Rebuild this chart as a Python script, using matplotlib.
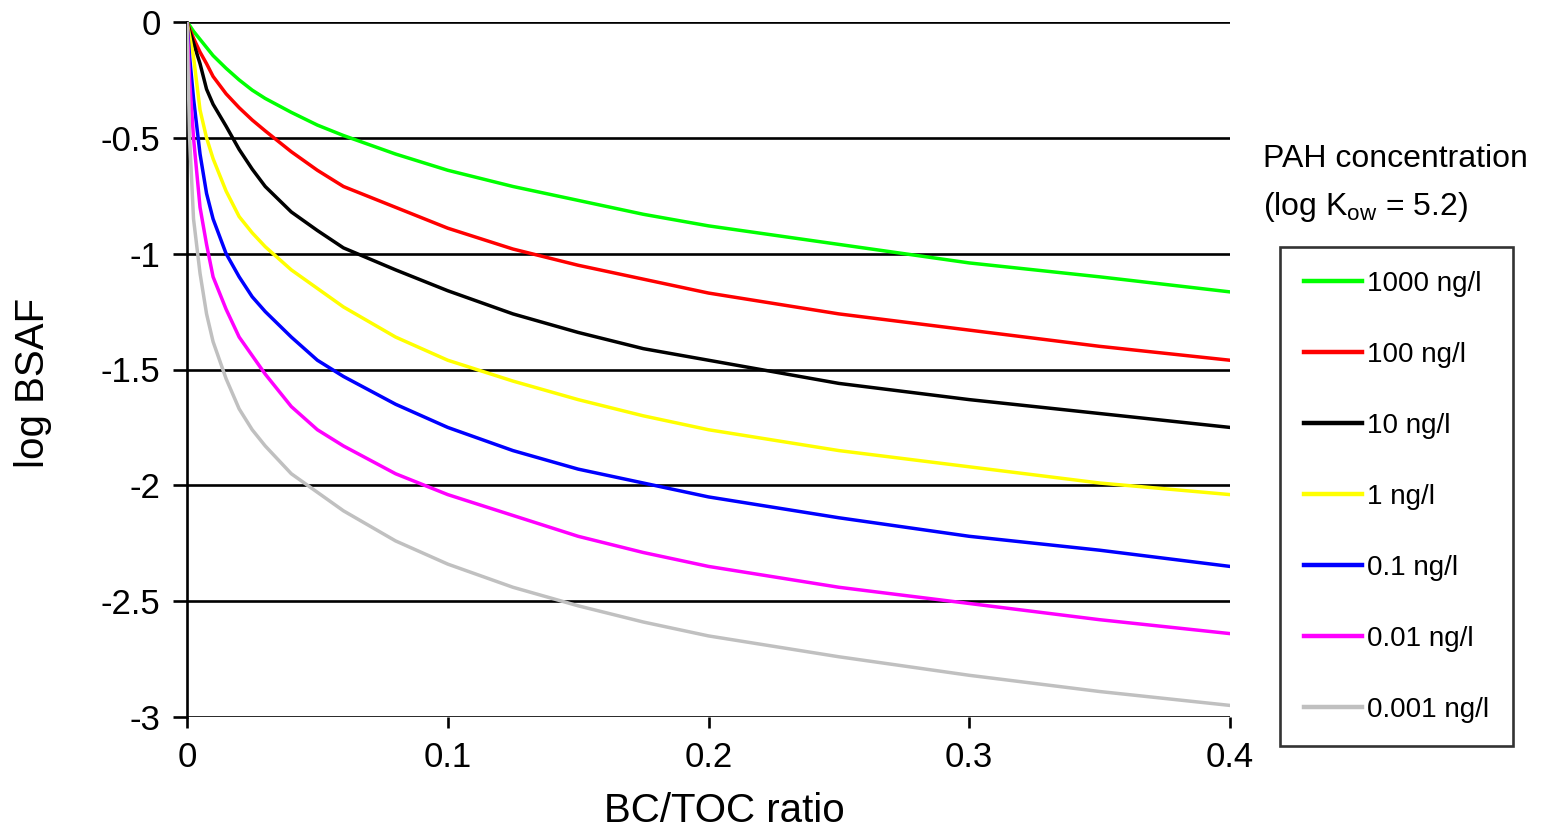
import numpy as np
import matplotlib
matplotlib.use("Agg")
import matplotlib.pyplot as plt

plt.rcParams['font.family'] = ['Liberation Sans', 'DejaVu Sans']
plt.rcParams['mathtext.fontset'] = 'custom'
plt.rcParams['mathtext.rm'] = 'Liberation Sans'
plt.rcParams['axes.unicode_minus'] = False

# BC/TOC ratio
bc_toc = [0, 0.001, 0.0025, 0.005, 0.0075, 0.01, 0.015, 0.02, 0.025, 0.03, 0.04, 0.05,
          0.06, 0.08, 0.1, 0.125, 0.15, 0.175, 0.2, 0.25, 0.3, 0.35, 0.4]

# log BSAF for each PAH concentration
bsaf_1000 = [0, -0.015, -0.04, -0.075, -0.11, -0.145, -0.2, -0.25, -0.294, -0.33, -0.39, -0.445,
             -0.49, -0.57, -0.64, -0.71, -0.77, -0.83, -0.88, -0.96, -1.04, -1.1, -1.165]
bsaf_100 = [0, -0.03, -0.07, -0.13, -0.18, -0.235, -0.31, -0.37, -0.423, -0.47, -0.56, -0.64,
            -0.71, -0.8, -0.89, -0.98, -1.05, -1.11, -1.17, -1.26, -1.33, -1.4, -1.46]
bsaf_10 = [0, -0.04, -0.09, -0.18, -0.29, -0.355, -0.45, -0.55, -0.635, -0.71, -0.82, -0.9,
           -0.975, -1.07, -1.16, -1.26, -1.34, -1.41, -1.46, -1.56, -1.63, -1.69, -1.75]
bsaf_1 = [0, -0.06, -0.15, -0.38, -0.5, -0.59, -0.73, -0.84, -0.91, -0.97, -1.07, -1.15,
          -1.23, -1.36, -1.46, -1.55, -1.63, -1.7, -1.76, -1.85, -1.92, -1.99, -2.04]
bsaf_01 = [0, -0.15, -0.33, -0.57, -0.74, -0.85, -1.0, -1.1, -1.186, -1.25, -1.36, -1.46,
           -1.53, -1.65, -1.75, -1.85, -1.93, -1.99, -2.05, -2.14, -2.22, -2.28, -2.35]
bsaf_001 = [0, -0.25, -0.5, -0.8, -0.96, -1.1, -1.24, -1.36, -1.44, -1.52, -1.66, -1.76,
            -1.83, -1.95, -2.04, -2.13, -2.22, -2.29, -2.35, -2.44, -2.51, -2.58, -2.64]
bsaf_0001 = [0, -0.5, -0.85, -1.085, -1.26, -1.38, -1.54, -1.67, -1.76, -1.83, -1.95, -2.03,
             -2.11, -2.24, -2.34, -2.44, -2.52, -2.59, -2.65, -2.74, -2.82, -2.89, -2.95]

labels = ['1000 ng/l', '100 ng/l', '10 ng/l', '1 ng/l', '0.1 ng/l', '0.01 ng/l', '0.001 ng/l']
colors = ['#00ff00', '#ff0000', '#000000', '#ffff00', '#0000ff', '#ff00ff', '#c0c0c0']

xticks = [0, 0.1, 0.2, 0.3, 0.4]
xticklabels = ['0', '0.1', '0.2', '0.3', '0.4']
yticks = [0, -0.5, -1, -1.5, -2, -2.5, -3]
yticklabels = ['0', '-0.5', '-1', '-1.5', '-2', '-2.5', '-3']

fig = plt.figure(figsize=(15.41, 8.33), dpi=100)
ax = fig.add_axes([187 / 1541, 1 - 717 / 833, (1230 - 187) / 1541, (717 - 22) / 833])

series = [bsaf_1000, bsaf_100, bsaf_10, bsaf_1, bsaf_01, bsaf_001, bsaf_0001]
for ys, lab, col in zip(series, labels, colors):
    ax.plot(bc_toc, ys, color=col, lw=2.5, label=lab, zorder=3,
            solid_joinstyle='round')

# horizontal lines at every y tick
for yv in yticks:
    ax.axhline(yv, color='black', lw=1.9, zorder=2)

ax.set_xlim(0, 0.4)
ax.set_ylim(-3, 0)
ax.set_xticks(xticks)
ax.set_xticklabels(xticklabels)
ax.set_yticks(yticks)
ax.set_yticklabels(yticklabels)

for side in ['top', 'right', 'bottom']:
    ax.spines[side].set_visible(False)
ax.spines['left'].set_linewidth(1.9)
ax.tick_params(axis='y', length=10, width=1.9, pad=9, labelsize=25)
ax.tick_params(axis='x', length=8, width=1.9, pad=9, labelsize=25)

ax.set_xlabel('BC/TOC ratio', fontsize=29, va='center')
ax.xaxis.set_label_coords((724 - 187) / 1043, (717 - 811) / 695)
ax.set_ylabel('log BSAF', fontsize=29, va='center')
ax.yaxis.set_label_coords((33 - 187) / 1043, 0.48)

fig.text(1263 / 1541, 1 - 167 / 833, 'PAH concentration', fontsize=23, va='baseline')
fig.text(1263 / 1541, 1 - 215 / 833, r'(log K$_{\rm ow}$ = 5.2)', fontsize=23, va='baseline')

leg = fig.legend(loc='upper left', bbox_to_anchor=(1280 / 1541, 1 - 247 / 833),
                 frameon=True, fancybox=False, fontsize=20, handlelength=2.1,
                 handletextpad=0.18, labelspacing=1.62, borderpad=0.85,
                 borderaxespad=0)
leg.get_frame().set_edgecolor('black')
leg.get_frame().set_linewidth(1.9)
for line in leg.get_lines():
    line.set_linewidth(3.2)

fig.savefig('out.png', dpi=100)
